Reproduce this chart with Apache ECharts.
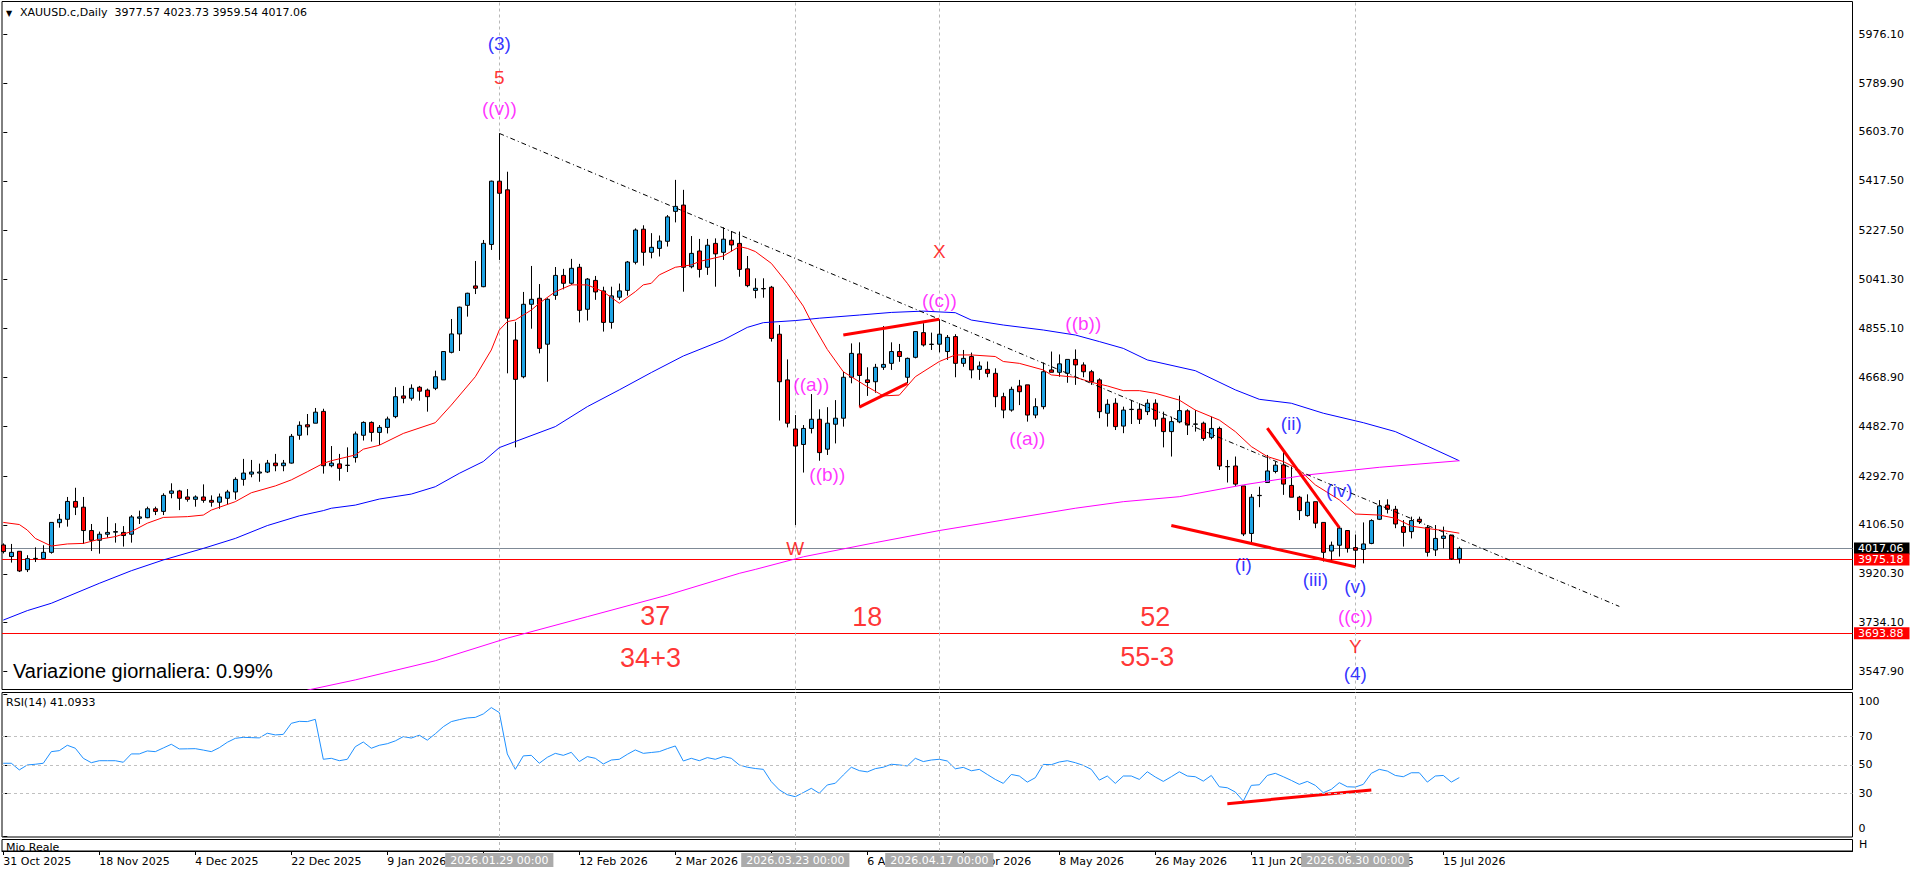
<!DOCTYPE html>
<html><head><meta charset="utf-8">
<script src="https://cdn.jsdelivr.net/npm/echarts@6/dist/echarts.min.js"></script>
<style>html,body{margin:0;padding:0;background:#fff;overflow:hidden}#c{width:1916px;height:874px}</style>
</head><body><div id="c"></div>
<script>
// ---- data (bar index 0 = 31 Oct 2025) ----
const opens = [4030,3986,4006,3936,3978,3978,4002,4115,4128,4196,
4174,4085,4048,4071,4079,4078,4071,4132,4134,4168,
4158,4227,4236,4213,4204,4213,4200,4193,4208,4232,
4280,4300,4304,4308,4342,4332,4342,4448,4488,4494,
4539,4332,4339,4334,4363,4448,4497,4459,4478,4519,
4598,4589,4631,4620,4627,4659,4764,4834,4943,5017,
5014,5175,5416,5383,4811,4671,4947,4970,4795,4981,
5057,5027,5088,4928,5038,4998,4878,4974,5000,5107,
5233,5145,5160,5187,5301,5325,5090,5150,5088,5179,
5145,5191,5179,5082,5000,5006,5012,4833,4659,4472,
4413,4474,4509,4395,4490,4513,4669,4758,4659,4652,
4707,4722,4767,4669,4745,4839,4794,4795,4767,4824,
4722,4748,4699,4699,4684,4595,4544,4636,4640,4525,
4557,4697,4688,4684,4737,4716,4690,4659,4532,4570,
4483,4546,4547,4538,4570,4513,4462,4499,4541,4490,
4494,4440,4474,4329,4331,4255,4074,4218,4268,4310,
4335,4257,4212,4142,4195,4116,4007,4029,4085,4020,
4013,4036,4128,4182,4166,4100,4081,4128,4097,4011,
4055,4068,3977.57];
const closes = [4005,4002,3931,3978,3979,4002,4116,4128,4196,4174,
4085,4048,4071,4078,4081,4066,4137,4137,4168,4158,
4219,4236,4208,4204,4213,4200,4193,4213,4232,4280,
4304,4308,4308,4342,4332,4342,4444,4486,4480,4536,
4332,4342,4322,4333,4453,4497,4459,4478,4510,4595,
4589,4627,4616,4595,4671,4767,4834,4936,4989,5008,
5179,5416,5370,4894,4661,4947,4966,4779,4966,5057,
5027,5084,4924,5043,4994,4878,4979,4998,5108,5230,
5145,5164,5188,5280,5320,5088,5141,5080,5172,5139,
5195,5173,5080,5018,5008,5007,4817,4652,4494,4407,
4474,4509,4382,4494,4513,4669,4760,4676,4649,4707,
4718,4767,4748,4741,4843,4792,4795,4833,4821,4722,
4741,4697,4712,4684,4595,4544,4623,4614,4525,4557,
4690,4688,4720,4737,4716,4690,4652,4538,4566,4481,
4544,4547,4509,4570,4509,4462,4500,4542,4487,4491,
4436,4474,4331,4328,4262,4072,4212,4219,4312,4334,
4262,4212,4161,4193,4113,4002,4029,4094,4017,4010,
4034,4123,4179,4166,4110,4078,4123,4119,4002,4055,
4064,3977,4017.06];
const highs = [4036,4034,4006,3991,4021,4029,4116,4148,4213,4248,
4213,4110,4081,4137,4113,4102,4144,4161,4176,4176,
4227,4265,4240,4243,4219,4261,4219,4226,4240,4288,
4358,4354,4340,4354,4377,4354,4453,4501,4529,4552,
4549,4407,4377,4402,4462,4501,4501,4487,4519,4631,
4636,4642,4636,4626,4694,4769,4891,4938,4991,5112,
5192,5418,5598,5452,4880,4994,5093,5024,4970,5089,
5082,5120,5101,5047,5055,5014,5014,5026,5112,5236,
5248,5218,5209,5287,5421,5383,5207,5196,5196,5198,
5240,5226,5224,5131,5046,5046,5017,4868,4737,4525,
4487,4605,4547,4555,4582,4690,4798,4802,4707,4720,
4864,4802,4796,4744,4845,4875,4839,4890,4830,4833,
4773,4763,4729,4729,4703,4610,4633,4659,4640,4589,
4725,4767,4756,4737,4775,4726,4697,4665,4585,4589,
4557,4582,4570,4585,4585,4538,4519,4599,4547,4544,
4500,4519,4481,4354,4367,4255,4224,4252,4373,4348,
4392,4329,4217,4223,4195,4116,4043,4100,4087,4070,
4116,4128,4201,4204,4179,4125,4138,4138,4106,4106,
4100,4068,4023.73];
const lows = [3998,3963,3927,3927,3965,3978,3997,4096,4100,4144,
4034,4007,3997,4058,4039,4024,4039,4110,4132,4144,
4144,4208,4163,4195,4176,4191,4176,4168,4184,4203,
4256,4288,4271,4304,4311,4311,4340,4431,4448,4494,
4302,4326,4275,4308,4344,4428,4424,4411,4455,4513,
4570,4580,4580,4538,4620,4659,4760,4769,4900,4986,
5012,5154,5116,4684,4402,4665,4854,4760,4652,4964,
5004,5021,4878,4885,4964,4843,4854,4964,4980,5099,
5094,5122,5129,5167,5259,4995,5084,5049,5059,5014,
5116,5148,5052,5012,4970,4972,4805,4504,4478,4106,
4306,4455,4351,4373,4417,4481,4646,4555,4598,4610,
4697,4697,4728,4646,4741,4786,4773,4764,4735,4669,
4709,4665,4659,4669,4555,4513,4538,4563,4500,4513,
4547,4688,4671,4648,4640,4669,4640,4513,4481,4468,
4456,4491,4491,4525,4481,4402,4367,4494,4449,4462,
4427,4433,4316,4268,4255,4064,4030,4174,4268,4303,
4221,4212,4125,4138,4094,3967,3967,3986,4001,3947,
3960,4033,4125,4150,4094,4024,4055,4110,3986,3988,
4017,3973,3959.54];
const rsiValues = [51.2,51.2,46.5,50,50.5,51.2,59.4,60.1,63.9,61.8,
54.7,51.6,53,53,53,51.9,57.8,57.8,59.9,59.4,
62,64.6,61.3,61.4,61.5,60.5,59.4,62.2,66,68.8,
69.5,69.3,69.1,72.4,71.2,71.6,79.4,80.8,80.6,82.2,
54,54.7,53,54,62.9,66.2,61.8,63.9,65,67,
70,69,71,67.5,72,77,80.6,82,83.2,83.6,
86,90.5,87,57.8,46.9,56.4,56.8,51.2,55.4,58.2,
56.8,58.9,52.4,55.9,54.7,50.7,53.5,54,57.5,60.6,
58.2,58.8,59.4,61.5,63.4,52.8,54.7,53,55.2,54,
55.9,54.7,50,48.4,47.5,46.9,38.2,32.4,29,27.6,
30.5,33.5,30,35.9,37.1,42.9,48.4,46,45.1,47.4,
48.4,50.5,50,49.3,54.7,52.4,53.5,54,52.8,47.3,
48.3,45.9,46.9,43.3,39.8,37,43.3,42.2,37.9,41,
50.4,50.2,52.1,53,51.6,49.7,46.9,39.3,42.2,37,
42.2,42.2,39.8,45.2,41.5,38.4,41.7,45.2,42.2,41.7,
38.6,42.6,34.6,33.9,30.9,24.5,35.6,36,42.6,44.1,
41.7,39.1,36.3,38.4,35.6,30.4,32.8,37.5,34.6,34.4,
36.3,44.1,46.9,45.7,42.6,41.7,44.5,44.5,37.9,42.2,
42.6,37.9,41.09];
// moving averages: [bar index, price]
const redMA = [[0,4116],[2,4108],[3,4087],[4,4055],[6,4026],[8,4034],[10,4036],[12,4052],[14,4062],[16,4081],[18,4113],[20,4135],[23,4138],[25,4144],[26,4163],[29,4195],[31,4229],[34,4255],[36,4278],[38,4309],[40,4341],[41,4351],[44,4373],[45,4395],[47,4410],[50,4455],[54,4496],[56,4563],[59,4671],[61,4773],[62,4849],[63,4881],[64,4887],[66,4925],[67,4951],[69,4995],[71,5021],[73,5021],[75,4995],[77,4951],[79,4995],[80,5021],[81,5027],[82,5059],[84,5088],[86,5097],[87,5110],[90,5131],[92,5167],[93,5160],[94,5148],[96,5103],[98,5027],[100,4940],[101,4880],[103,4775],[105,4690],[108,4633],[110,4598],[112,4601],[114,4671],[117,4729],[119,4754],[121,4754],[124,4748],[125,4729],[127,4722],[130,4697],[131,4678],[134,4669],[136,4650],[138,4636],[140,4618],[142,4618],[144,4608],[147,4582],[149,4544],[152,4506],[154,4462],[156,4405],[158,4367],[160,4348],[162,4316],[164,4259],[167,4202],[169,4148],[172,4144],[174,4132],[176,4102],[178,4093],[180,4085],[182,4075]];
const blueMA = [[0,3744],[3,3780],[6,3808],[12,3884],[16,3932],[20,3973],[25,4017],[29,4055],[33,4104],[37,4141],[40,4161],[41,4170],[44,4182],[47,4205],[51,4224],[54,4252],[57,4303],[60,4348],[62,4401],[64,4424],[69,4481],[73,4557],[77,4621],[81,4687],[85,4750],[90,4811],[93,4859],[95,4877],[99,4885],[102,4894],[107,4906],[111,4916],[115,4921],[119,4915],[121,4887],[125,4868],[130,4849],[134,4830],[137,4805],[140,4779],[143,4735],[149,4694],[154,4621],[157,4585],[161,4570],[165,4532],[170,4496],[174,4462],[178,4407],[182,4351]];
const pinkMA = [[38,3477],[44,3516],[54,3589],[63,3675],[73,3757],[83,3839],[92,3922],[94,3937],[100,3985],[109,4039],[117,4085],[125,4125],[134,4170],[140,4195],[147,4214],[155,4259],[163,4297],[172,4326],[182,4351]];
// drawn objects: [bar index, price]
const trendLine = [[62,5598],[202,3796]];
const flagTop = [[105,4830],[117,4890]];
const flagBottom = [[107,4555],[113,4646]];
const wedgeTop = [[158,4475],[167,4096]];
const wedgeBottom = [[146,4104],[169,3947]];
const rsiDivergence = [[153,22.7],[171,32.3]];
// wave labels: [bar index, price, text]
const blueLabels = [[62,5941,'(3)'],[161,4494,'(ii)'],[167,4236,'(iv)'],[155,3954,'(i)'],[164,3899,'(iii)'],[169,3871,'(v)'],[169,3541,'(4)']];
const redLabels = [[62,5812,'5'],[117,5147,'X'],[99,4017,'W'],[169,3645,'Y']];
const magentaLabels = [[62,5691,'((v))'],[117,4961,'((c))'],[101,4640,'((a))'],[103,4300,'((b))'],[128,4436,'((a))'],[135,4872,'((b))'],[169,3757,'((c))']];
const countLabels = [[81.5,3759,'37'],[80.9,3598,'34+3'],[108,3757,'18'],[144,3757,'52'],[143,3604,'55-3']];
// axes
const priceTicks = [5976.10,5789.90,5603.70,5417.50,5227.50,5041.30,4855.10,4668.90,4482.70,4292.70,4106.50,3920.30,3734.10,3547.90];
const rsiTicks = [0,30,50,70,100];
const rsiLevels = [70,50,30];
const dateTickIdx = [0,12,24,36,48,60,72,84,96,108,120,132,144,156,168,180];
const dateLabelIdx = [0,12,24,36,48,72,84,108,120,132,144,156,168,180];
const dateTickLabels = ['31 Oct 2025','18 Nov 2025','4 Dec 2025','22 Dec 2025','9 Jan 2026','12 Feb 2026','2 Mar 2026','6 Apr 2026','22 Apr 2026','8 May 2026','26 May 2026','11 Jun 2026','29 Jun 2026','15 Jul 2026'];
const cursorIdx = [62,99,117,169];
const cursorLabels = ['2026.01.29 00:00','2026.03.23 00:00','2026.04.17 00:00','2026.06.30 00:00'];
const lastPrice = 4017.06, redLevel1 = 3975.18, redLevel2 = 3693.88;
const headerText = 'XAUUSD.c,Daily \u00a03977.57 4023.73 3959.54 4017.06';
const rsiHeader = 'RSI(14) 41.0933';
const dailyChange = 'Variazione giornaliera: 0.99%';

// ---- chart ----
const UI = 'DejaVu Sans', ARIAL = 'Liberation Sans';
const X_MIN = -0.1625, X_MAX = 231.15;
const chart = echarts.init(document.getElementById('c'), null, {renderer:'svg', width:1916, height:874});
const candleData = opens.map((o,i)=>[i,o,closes[i],lows[i],highs[i]]);
const rsiData = rsiValues.map((v,i)=>[i,v]);
const hidden = {show:false};
function xAx(g, extra){ return Object.assign({type:'value', gridIndex:g, min:X_MIN, max:X_MAX, splitLine:hidden, axisLine:hidden, axisTick:hidden, axisLabel:hidden}, extra||{}); }
function seg(data, color, width, xi, yi, type){ return {type:'line', data:data, xAxisIndex:xi||0, yAxisIndex:yi||0, symbol:'none', silent:true, lineStyle:{color:color, width:width, type:type||'solid'}, z:4}; }
function labels(data, color, size){ return {type:'scatter', data:data, symbolSize:0.1, itemStyle:{color:'transparent'}, silent:true, z:6,
  label:{show:true, position:'inside', formatter:p=>p.value[2], color:color, fontFamily:ARIAL, fontSize:size}}; }
const cursorLine = {color:'#b8b8b8', type:[3,3], width:1};
function priceTag(v, bg){ return {yAxis:v, lineStyle:{color: bg==='#000000' ? '#7f8a96' : '#ff0000', width:1, type:'solid'},
  label:{show:true, position:'end', formatter:v.toFixed(2), backgroundColor:bg, color:'#fff', fontFamily:UI, fontSize:11, lineHeight:12, padding:[0,6,0,4], distance:1.5}}; }

const option = {
  animation:false,
  backgroundColor:'#ffffff',
  grid:[
    {left:2, top:1.5, width:1850.5, height:688, show:true, borderColor:'#000', borderWidth:1},
    {left:2, top:692.5, width:1850.5, height:144.5, show:true, borderColor:'#000', borderWidth:1},
    {left:2, top:839.5, width:1850.5, height:11.5, show:true, borderColor:'#000', borderWidth:1}
  ],
  xAxis:[ xAx(0), xAx(1), xAx(2, {
    axisLine:{show:true, lineStyle:{color:'#000'}},
    axisTick:{show:true, customValues:dateTickIdx, length:4, lineStyle:{color:'#000'}},
    axisLabel:{show:true, customValues:dateLabelIdx, formatter:v=>dateTickLabels[dateLabelIdx.indexOf(Math.round(v))], align:'left', margin:5, color:'#000', fontFamily:UI, fontSize:11}
  })],
  yAxis:[
    {type:'value', gridIndex:0, position:'right', min:3479.5, max:6100.5, splitLine:hidden, axisLine:hidden,
      axisTick:{show:true, customValues:priceTicks, length:4, lineStyle:{color:'#000'}},
      axisLabel:{customValues:priceTicks, formatter:v=>v.toFixed(2), margin:6, color:'#000', fontFamily:UI, fontSize:11}},
    {type:'value', gridIndex:1, position:'right', min:-0.85, max:101.15, splitLine:hidden, axisLine:hidden,
      axisTick:{show:true, customValues:rsiTicks, length:4, lineStyle:{color:'#000'}},
      axisLabel:{customValues:rsiTicks, margin:6, color:'#000', fontFamily:UI, fontSize:11,
        formatter:v=> v===100 ? '{a|100}' : (v===0 ? '{b|0}' : String(v)),
        rich:{a:{padding:[14,0,0,0], fontFamily:UI, fontSize:11, color:'#000'}, b:{padding:[0,0,14,0], fontFamily:UI, fontSize:11, color:'#000'}}}},
    {type:'value', gridIndex:2, position:'right', min:0, max:1, show:false, splitLine:hidden}
  ],
  series:[
    {type:'candlestick', xAxisIndex:0, yAxisIndex:0, data:candleData, barWidth:4.5, z:3,
      itemStyle:{color:'#1ea3e4', color0:'#ff0000', borderColor:'#000', borderColor0:'#000', borderWidth:1},
      markLine:{silent:true, symbol:['none','none'], animation:false, z:2,
        data:[ priceTag(lastPrice,'#000000'), priceTag(redLevel1,'#ff0000'), priceTag(redLevel2,'#ff0000') ]
          .concat(cursorIdx.map(i=>({xAxis:i, lineStyle:cursorLine, label:{show:false}})))}},
    seg(redMA,'#ff0000',1), seg(blueMA,'#0000ff',1), seg(pinkMA,'#ff00ff',1),
    seg(trendLine,'#000',1,0,0,[5,3,1,3]),
    seg(flagTop,'#ff0000',3), seg(flagBottom,'#ff0000',3), seg(wedgeTop,'#ff0000',3), seg(wedgeBottom,'#ff0000',3),
    labels(blueLabels,'#0000ff',19), labels(redLabels,'#ff0000',19), labels(magentaLabels,'#ff00ff',19), labels(countLabels,'#ff0000',27),
    {type:'line', xAxisIndex:1, yAxisIndex:1, data:rsiData, symbol:'none', silent:true, lineStyle:{color:'#1e90ff', width:1}, z:3,
      markLine:{silent:true, symbol:['none','none'], animation:false,
        data: rsiLevels.map(v=>({yAxis:v, lineStyle:{color:'#c0c0c0', type:[3,3], width:1}, label:{show:false}}))
          .concat(cursorIdx.map(i=>({xAxis:i, lineStyle:cursorLine, label:{show:false}})))}},
    seg(rsiDivergence,'#ff0000',3,1,1),
    {type:'line', xAxisIndex:2, yAxisIndex:2, data:[[0,-5]], symbol:'none', silent:true, lineStyle:{width:0},
      markLine:{silent:true, symbol:['none','none'], animation:false,
        data: cursorIdx.map((i,k)=>({xAxis:i, lineStyle:cursorLine,
          label:{show:true, position:'start', formatter:cursorLabels[k], backgroundColor:'#ababab', color:'#fff', fontFamily:UI, fontSize:11, lineHeight:12, padding:[1,5,1,5], distance:2}}))}}
  ],
  graphic:[
    {type:'text', left:6, top:9, style:{text:'\u25BC', font:'8px "DejaVu Sans"', fill:'#000'}},
    {type:'text', left:20, top:7, style:{text:headerText, font:'11px "DejaVu Sans"', fill:'#000'}},
    {type:'text', left:6, top:697, style:{text:rsiHeader, font:'11px "DejaVu Sans"', fill:'#000'}},
    {type:'text', left:13, top:661, style:{text:dailyChange, font:'20px "Liberation Sans"', fill:'#000'}},
    {type:'text', left:6, top:842, z:1, style:{text:'Mio Reale', font:'11px "DejaVu Sans"', fill:'#000'}},
    {type:'rect', left:5, top:852, z:2, shape:{width:65, height:4}, style:{fill:'#fff'}},
    {type:'text', left:1859, top:839, style:{text:'H', font:'11px "DejaVu Sans"', fill:'#000'}}
  ]
};
chart.setOption(option);
</script></body></html>
